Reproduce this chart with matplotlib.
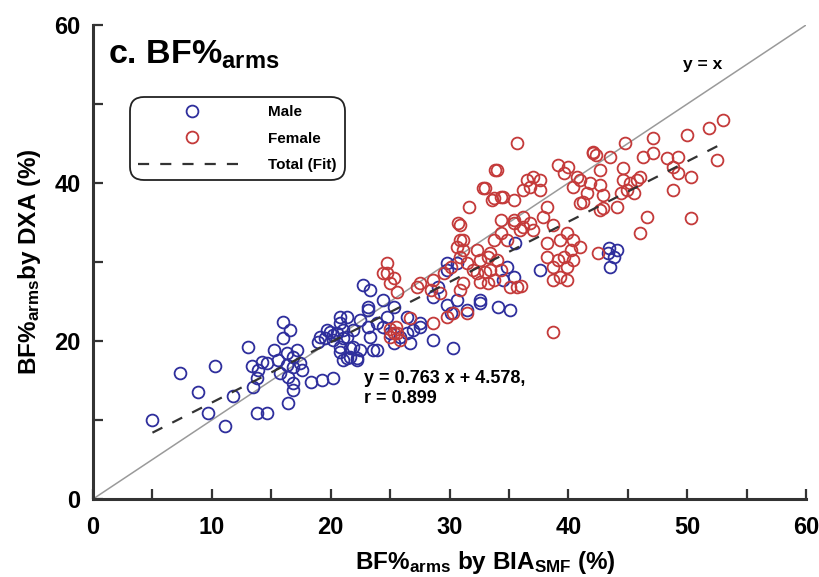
import numpy as np
import matplotlib
matplotlib.use("Agg")
import matplotlib.pyplot as plt

plt.rcParams["font.family"] = ["Liberation Sans", "DejaVu Sans"]
plt.rcParams["font.weight"] = "bold"
plt.rcParams["mathtext.fontset"] = "custom"
plt.rcParams["mathtext.rm"] = "Liberation Sans:bold"
plt.rcParams["mathtext.it"] = "Liberation Sans:bold"
plt.rcParams["mathtext.bf"] = "Liberation Sans:bold"

# BIA (x) vs DXA (y) arm body fat
male_x = [5.0, 7.3, 8.8, 9.7, 10.3, 11.1, 11.8, 13.0, 13.4, 13.5, 13.8, 13.9, 14.2, 14.6,
          13.8, 14.6, 15.2, 15.6, 16.0, 15.7, 16.4, 16.8, 16.8, 16.4, 16.0, 16.6, 16.3, 16.8,
          17.2, 17.4, 16.8, 17.6, 16.3, 18.3, 19.3, 20.2, 18.9, 19.5, 19.9, 20.2, 20.8, 21.4,
          21.9, 21.0, 21.6, 22.2, 21.4, 20.8, 23.1, 23.9, 23.6, 22.7, 23.3, 20.8, 21.0, 20.5,
          21.4, 20.2, 21.9, 21.6, 21.0, 22.2, 22.5, 20.8, 19.7, 19.1, 23.9, 23.3, 23.1, 22.5,
          23.1, 24.4, 25.3, 24.7, 24.4, 25.0, 25.3, 26.4, 26.9, 27.5, 26.7, 25.8, 26.4, 27.5,
          28.6, 29.0, 28.6, 30.3, 31.5, 32.6, 34.1, 35.1, 32.6, 30.6, 30.1, 29.8, 30.6, 29.8,
          29.8, 35.5, 34.8, 35.4, 34.5, 37.6, 43.3, 43.8, 44.1, 43.4, 43.5]
male_y = [10.0, 16.0, 13.5, 10.9, 16.8, 9.2, 13.0, 19.2, 16.8, 14.2, 15.3, 16.3, 17.3, 17.2,
          10.9, 10.9, 18.9, 17.6, 20.4, 16.0, 15.4, 14.7, 13.8, 12.2, 22.4, 21.4, 18.5, 18.0,
          18.9, 17.2, 16.7, 16.3, 17.0, 14.8, 15.1, 15.3, 19.9, 20.4, 21.1, 20.8, 22.3, 23.0,
          21.4, 20.4, 19.1, 17.8, 17.8, 18.6, 23.9, 22.3, 18.9, 27.1, 26.5, 23.0, 21.4, 21.0,
          20.5, 20.1, 19.2, 18.0, 17.6, 17.6, 18.9, 19.2, 21.4, 20.5, 18.9, 20.5, 24.3, 22.7,
          21.8, 25.2, 24.3, 23.0, 21.8, 21.0, 19.7, 21.0, 21.4, 21.8, 19.7, 20.5, 23.0, 22.3,
          25.6, 26.8, 20.1, 19.1, 23.9, 25.2, 24.3, 23.9, 24.8, 25.2, 23.5, 29.0, 29.9, 29.9,
          24.6, 32.4, 29.4, 28.1, 27.7, 29.0, 31.1, 30.6, 31.5, 31.8, 29.4]

female_x = [24.7, 24.7, 24.4, 25.3, 25.0, 25.6, 25.0, 25.3, 25.6, 25.8, 25.0, 25.5, 26.7,
            28.6, 27.3, 28.4, 27.5, 29.8, 30.3, 31.5, 28.6, 30.9, 30.9, 31.1, 32.3, 32.6,
            33.0, 32.6, 33.2, 32.0, 33.2, 34.3, 35.4, 34.3, 33.7, 35.7, 35.1, 30.9, 31.1,
            29.2, 31.6, 30.7, 31.1, 34.0, 32.8, 33.6, 34.3, 35.4, 35.7, 33.8, 33.0, 33.7,
            34.5, 36.5, 37.0, 37.6, 36.8, 36.2, 37.6, 35.4, 36.2, 36.8, 36.2, 37.0, 35.9,
            38.2, 37.9, 38.7, 39.1, 40.0, 40.7, 41.0, 42.1, 42.3, 43.5, 42.7, 41.8, 42.7,
            41.2, 41.0, 42.9, 42.9, 44.1, 44.6, 44.8, 44.6, 45.2, 45.8, 44.9, 45.5, 44.4,
            46.0, 46.6, 46.0, 47.1, 46.3, 47.1, 48.3, 49.2, 48.8, 49.2, 48.8, 50.3, 50.0,
            50.3, 51.8, 53.0, 52.5, 39.3, 39.9, 38.7, 38.2, 39.3, 39.9, 40.4, 40.2, 41.0,
            39.6, 39.1, 38.2, 38.7, 39.9, 40.4, 42.5, 42.7, 38.7, 34.3, 34.8, 33.7, 30.1,
            30.9, 31.5, 30.6, 29.5, 33.4, 34.0, 33.4, 32.3, 36.0, 39.6, 40.4, 41.6, 42.1]
female_y = [29.9, 28.6, 28.6, 28.0, 27.3, 26.2, 20.5, 21.0, 21.0, 20.1, 21.5, 21.8, 22.9,
            27.7, 26.8, 26.5, 27.3, 23.0, 23.5, 23.5, 22.3, 34.7, 32.8, 31.5, 31.5, 30.3,
            28.7, 27.5, 27.3, 29.0, 30.6, 35.3, 34.9, 29.0, 27.7, 26.8, 26.8, 26.5, 27.3,
            26.1, 37.0, 34.9, 32.8, 41.6, 39.4, 37.8, 38.2, 37.8, 45.0, 41.6, 39.4, 38.1,
            38.2, 40.4, 40.8, 40.4, 39.5, 39.1, 39.1, 35.3, 35.7, 34.9, 34.4, 34.1, 34.1,
            37.0, 35.7, 34.7, 42.3, 42.0, 40.8, 40.4, 43.9, 43.5, 43.3, 41.6, 40.0, 39.7,
            37.6, 37.5, 38.5, 36.8, 37.0, 41.9, 45.1, 40.4, 40.0, 40.4, 39.1, 38.7, 38.7,
            40.8, 35.7, 33.7, 45.7, 43.3, 43.8, 43.2, 43.3, 42.0, 41.3, 39.1, 40.8, 46.1,
            35.6, 47.0, 48.0, 42.9, 28.1, 27.7, 27.7, 32.4, 32.8, 33.7, 32.8, 31.5, 31.9,
            30.6, 30.3, 30.6, 29.4, 29.4, 30.3, 31.1, 36.6, 21.1, 33.7, 32.8, 32.8, 29.4,
            30.6, 29.9, 31.9, 28.6, 31.1, 30.3, 29.0, 28.6, 27.0, 41.3, 39.5, 38.7, 43.8]

fit_slope, fit_intercept = 0.763, 4.578
fit_range = [5, 53]

male_color = "#2e2e9c"
female_color = "#c43a3a"

fig = plt.figure(figsize=(8.19, 5.77), dpi=100)
ax = fig.add_axes([0.1136, 0.1352, 0.8706, 0.8215])

ax.plot([0, 60], [0, 60], color="#9a9a9a", linewidth=1.1, zorder=1)

ax.plot(male_x, male_y, linestyle="none", marker="o", markersize=8.5,
        markerfacecolor="none", markeredgecolor=male_color, markeredgewidth=1.3,
        label="Male", zorder=3)
ax.plot(female_x, female_y, linestyle="none", marker="o", markersize=8.5,
        markerfacecolor="none", markeredgecolor=female_color, markeredgewidth=1.3,
        label="Female", zorder=3)

fx = np.array(fit_range)
ax.plot(fx, fit_slope * fx + fit_intercept, color="#333333", linewidth=1.6,
        linestyle=(0, (5, 5)), label="Total (Fit)", zorder=4)

ax.set_xlim(0, 60)
ax.set_ylim(0, 60)
ax.set_xticks(np.arange(0, 61, 10))
ax.set_xticks(np.arange(5, 60, 10), minor=True)
ax.set_yticks(np.arange(0, 61, 20))
ax.set_yticks(np.arange(10, 60, 20), minor=True)
ax.tick_params(which="both", direction="in", length=7, width=1.6, color="#333333",
               labelsize=17)
ax.tick_params(axis="x", pad=12)
ax.tick_params(axis="y", pad=9)
for side in ["top", "right"]:
    ax.spines[side].set_visible(False)
for side in ["left", "bottom"]:
    ax.spines[side].set_linewidth(2.2)
    ax.spines[side].set_color("#333333")

ax.set_xlabel(r"BF%$_{\mathrm{arms}}$ by BIA$_{\mathrm{SMF}}$ (%)", fontsize=17.5,
              fontweight="bold")
ax.xaxis.set_label_coords(0.55, -0.106)
ax.set_ylabel(r"BF%$_{\mathrm{arms}}$by DXA (%)", fontsize=17.5, fontweight="bold",
              labelpad=8)

ax.text(1.3, 58.3, r"c. BF%$_{\mathrm{arms}}$", fontsize=24.5, fontweight="bold",
        va="top", ha="left")
ax.text(51.3, 55.0, "y = x", fontsize=12.5, fontweight="bold", ha="center", va="center")
ax.text(22.8, 16.3, "y = 0.763 x + 4.578,\nr = 0.899", fontsize=13,
        fontweight="bold", ha="left", va="top", linespacing=1.25)

leg = ax.legend(loc="upper left", bbox_to_anchor=(130 / 819, 1 - 97 / 577),
                bbox_transform=fig.transFigure, numpoints=1, handlelength=7.0,
                handletextpad=1.5, labelspacing=0.8, borderpad=0.55,
                borderaxespad=0, fontsize=11, fancybox=True, framealpha=1)
frame = leg.get_frame()
frame.set_edgecolor("#222222")
frame.set_linewidth(1.3)
frame.set_boxstyle("round,pad=0,rounding_size=0.9")

fig.savefig("out.png", dpi=100)
